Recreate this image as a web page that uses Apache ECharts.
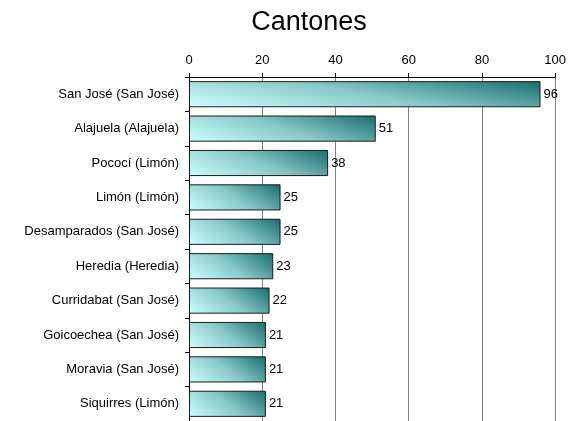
<!DOCTYPE html>
<html>
<head>
<meta charset="utf-8">
<script src="https://cdn.jsdelivr.net/npm/echarts@6/dist/echarts.min.js"></script>
<style>
  html, body { margin: 0; padding: 0; background: #fff; }
  #chart { width: 569px; height: 421px; }
</style>
</head>
<body>
<div id="chart"></div>
<script>
// data
var cantones = [
  'San José (San José)',
  'Alajuela (Alajuela)',
  'Pococí (Limón)',
  'Limón (Limón)',
  'Desamparados (San José)',
  'Heredia (Heredia)',
  'Curridabat (San José)',
  'Goicoechea (San José)',
  'Moravia (San José)',
  'Siquirres (Limón)'
];
var valores = [96, 51, 38, 25, 25, 23, 22, 21, 21, 21];
var xTicks = [0, 20, 40, 60, 80, 100];

var chart = echarts.init(document.getElementById('chart'));
var font = 'Liberation Sans, Arial, sans-serif';

// diagonal fill: light in the lower left, dark teal in the upper right,
// mixing both directions whatever the bar's length
var pxPerUnit = 3.67, barPx = 26, wx = 0.7, wy = 0.3;
function barFill(params) {
  var w = Math.max(params.value * pxPerUnit, 1);
  var s = (barPx * barPx) / (w * w);
  var dy = wy / (wy * wy + wx * wx * s);
  var dx = wx * s / (wy * wy + wx * wx * s);
  return new echarts.graphic.LinearGradient(0, 1, dx, 1 - dy, [
    { offset: 0, color: '#ceffff' },
    { offset: 0.5, color: '#88c8c8' },
    { offset: 1, color: '#156b6b' }
  ]);
}

chart.setOption({
  animation: false,
  title: {
    text: 'Cantones',
    left: 304,
    textAlign: 'center',
    top: 4,
    textStyle: { fontFamily: font, fontSize: 27, fontWeight: 'normal', color: '#000' }
  },
  grid: { left: 189, right: 13, top: 77, bottom: 0, containLabel: false },
  xAxis: {
    type: 'value',
    position: 'top',
    min: xTicks[0],
    max: xTicks[xTicks.length - 1],
    interval: 20,
    axisLine: { show: true, lineStyle: { color: '#000', width: 1 } },
    axisTick: { show: true, inside: false, length: 4, lineStyle: { color: '#000' } },
    axisLabel: { fontFamily: font, fontSize: 13, color: '#000', margin: 10 },
    splitLine: { show: true, lineStyle: { color: '#808080', width: 1 } }
  },
  yAxis: {
    type: 'category',
    inverse: true,
    data: cantones,
    axisLine: { show: true, lineStyle: { color: '#000', width: 1 } },
    axisTick: { show: true, length: 4, lineStyle: { color: '#000' } },
    axisLabel: { fontFamily: font, fontSize: 13, color: '#000', margin: 10 }
  },
  series: [{
    type: 'bar',
    data: valores,
    barCategoryGap: '24%',
    itemStyle: {
      color: barFill,
      borderColor: '#1a1a1a',
      borderWidth: 1
    },
    label: {
      show: true,
      position: 'right',
      distance: 3,
      fontFamily: font,
      fontSize: 13,
      color: '#000'
    }
  }]
});
</script>
</body>
</html>
